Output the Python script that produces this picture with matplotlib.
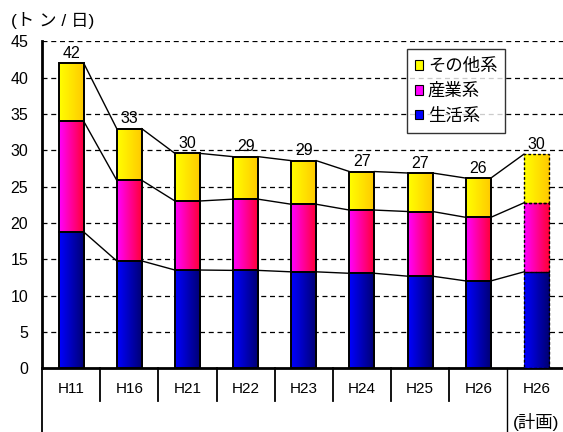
import numpy as np
import matplotlib
matplotlib.use('Agg')
import matplotlib.pyplot as plt
from matplotlib.colors import LinearSegmentedColormap
from matplotlib.patches import Rectangle

plt.rcParams['font.family'] = ['Liberation Sans', 'Noto Sans CJK JP', 'DejaVu Sans']

categories = ['H11', 'H16', 'H21', 'H22', 'H23', 'H24', 'H25', 'H26', 'H26\n(計画)']
seikatsu = [18.8, 14.8, 13.55, 13.5, 13.3, 13.1, 12.7, 12.05, 13.3]     # 生活系
sangyo = [15.25, 11.1, 9.5, 9.8, 9.3, 8.7, 8.9, 8.75, 9.5]            # 産業系
sonota = [8.0, 7.1, 6.55, 5.85, 6.0, 5.3, 5.3, 5.4, 6.7]              # その他系
totals_label = [42, 33, 30, 29, 29, 27, 27, 26, 30]
series_names = ['生活系', '産業系', 'その他系']

grad = {
    '生活系': ('#0000ff', '#000070'),
    '産業系': ('#ff00ff', '#ff0030'),
    'その他系': ('#ffff00', '#ffc800'),
}

fig = plt.figure(figsize=(5.63, 4.32), dpi=100)
ax = fig.add_axes([0.0746, 0.147, 0.93, 0.757])

n = len(categories)
x = np.arange(n)
w = 0.43
ax.set_xlim(-0.5, n - 0.5)
ax.set_ylim(0, 45)

# grid
for yv in range(5, 50, 5):
    ax.axhline(yv, color='black', lw=0.9, ls=(0, (4, 3)), zorder=1)

stack = [seikatsu, sangyo, sonota]
bottoms = np.zeros(n)
tops_all = []
for vals, name in zip(stack, series_names):
    cmap = LinearSegmentedColormap.from_list(name, grad[name])
    g = np.linspace(0, 1, 64).reshape(1, -1)
    for i in range(n):
        b, h = bottoms[i], vals[i]
        ax.imshow(g, cmap=cmap, aspect='auto', extent=(x[i] - w / 2, x[i] + w / 2, b, b + h),
                  zorder=3, interpolation='bilinear')
        last = (i == n - 1)
        ax.add_patch(Rectangle((x[i] - w / 2, b), w, h, fill=False, edgecolor='black',
                               lw=1.0 if last else 1.4, ls=(0, (2, 1.5)) if last else '-', zorder=4))
    bottoms = bottoms + np.array(vals)
    tops_all.append(bottoms.copy())

# connecting lines
for tops in tops_all:
    for i in range(n - 1):
        ax.plot([x[i] + w / 2, x[i + 1] - w / 2], [tops[i], tops[i + 1]], color='black', lw=1.0, zorder=2)

for i in range(n):
    ax.text(x[i], tops_all[-1][i] + 0.3, str(totals_label[i]), ha='center', va='bottom', fontsize=11.5, zorder=5)

ax.set_yticks(range(0, 50, 5))
ax.tick_params(axis='y', length=0, labelsize=11.5, pad=10)
ax.set_xticks([])
for s in ['top', 'right']:
    ax.spines[s].set_visible(False)
ax.spines['bottom'].set_linewidth(2)
ax.spines['left'].set_linewidth(2)
ax.spines['left'].set_bounds(0, 45)

# category labels and separators below the axis
trans = ax.get_xaxis_transform()
for i, c in enumerate(categories):
    lines = c.split('\n')
    ax.text(x[i], -0.063, lines[0], transform=trans, ha='center', va='center', fontsize=11)
    if len(lines) > 1:
        ax.text(x[i], -0.163, lines[1], transform=trans, ha='center', va='center', fontsize=12.5)
for i in range(n - 1):
    bot = -0.2 if i == n - 2 else -0.1
    ax.plot([x[i] + 0.5, x[i] + 0.5], [0.0, bot], transform=trans, color='black', lw=1.0 if i == n - 2 else 1.3,
            clip_on=False)
ax.plot([-0.5, -0.5], [0, -0.2], transform=trans, color='black', lw=1.3, clip_on=False)

fig.text(0.02, 0.953, '(ト ン / 日)', fontsize=12.5, ha='left', va='center')

handles = [Rectangle((0, 0), 1, 1, facecolor=grad[nm][0], edgecolor='black', lw=0.8) for nm in series_names[::-1]]
leg = ax.legend(handles, series_names[::-1], loc='upper left', bbox_to_anchor=(0.697, 0.977),
                prop={'family': ['Noto Sans CJK JP'], 'size': 12.5}, frameon=True, fancybox=False,
                edgecolor='black', handlelength=0.5, handleheight=0.5, handletextpad=0.25,
                labelspacing=0.4, borderpad=0.45, borderaxespad=0)
leg.get_frame().set_linewidth(1.0)
leg.set_zorder(6)

fig.savefig('out.png', dpi=100)
